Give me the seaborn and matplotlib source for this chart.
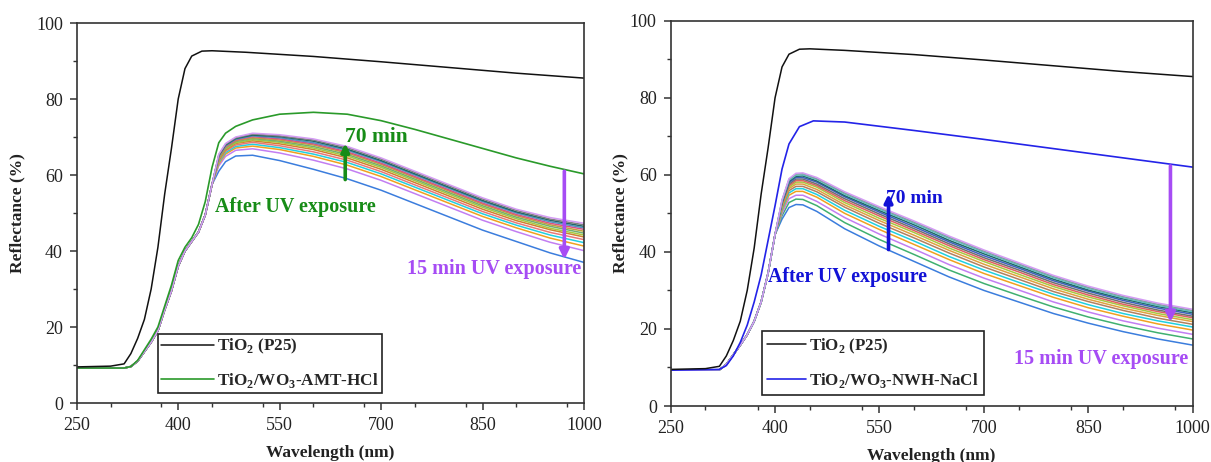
import numpy as np
import pandas as pd
import matplotlib
matplotlib.use("Agg")
import matplotlib.pyplot as plt
from matplotlib.ticker import MultipleLocator, FixedLocator
from matplotlib.lines import Line2D
import seaborn as sns

# ---------------- data ----------------
# TiO2 (P25) reference (both panels)
p25_wl = [250, 300, 320, 330, 340, 350, 360, 370, 380, 390, 400, 410, 420, 435, 450, 500, 600, 700, 800, 900, 1000]
p25_R = [9.5, 9.7, 10.3, 13.0, 17.0, 22.0, 30.0, 41.0, 55.0, 67.0, 80.0, 88.0, 91.3, 92.6, 92.7, 92.3, 91.2, 89.8, 88.3, 86.8, 85.5]

# Left: TiO2/WO3-AMT-HCl before UV
amt_wl = [250, 320, 330, 340, 350, 360, 370, 380, 390, 400, 410, 420, 430, 440, 450, 460, 470, 485, 510,
          550, 600, 650, 700, 750, 800, 850, 900, 950, 1000]
amt_R = [9.2, 9.2, 9.6, 11.2, 14.0, 16.8, 20.0, 25.5, 31.0, 37.5, 41.0, 43.5, 47.0, 53.0, 62.0, 68.5, 71.0, 72.8, 74.5,
         76.0, 76.5, 76.0, 74.3, 72.0, 69.5, 67.0, 64.5, 62.3, 60.3]

# Left: UV exposure series (shared rising edge + individual tails), 15 min -> 70 min
left_rise_wl = [250, 320, 330, 340, 350, 360, 370, 380, 390, 400, 410, 420, 430, 440, 450]
left_rise_R = [9.2, 9.2, 9.6, 11.0, 13.5, 16.0, 19.0, 24.5, 29.5, 36.0, 40.0, 42.5, 45.0, 49.5, 57.5]
left_tail_wl = [460, 470, 485, 510, 550, 600, 650, 700, 750, 800, 850, 900, 950, 1000]
left_uv = [
    [61.0, 63.5, 65.0, 65.2, 63.8, 61.5, 59.0, 56.0, 52.5, 49.0, 45.5, 42.5, 39.5, 37.0],
    [62.4, 64.9, 66.5, 66.9, 65.8, 63.9, 61.6, 58.6, 55.1, 51.6, 48.1, 45.1, 42.3, 40.1],
    [62.9, 65.5, 67.1, 67.6, 66.7, 64.9, 62.6, 59.6, 56.1, 52.6, 49.1, 46.1, 43.4, 41.3],
    [63.3, 65.9, 67.5, 68.1, 67.2, 65.5, 63.3, 60.3, 56.8, 53.3, 49.8, 46.8, 44.2, 42.2],
    [63.6, 66.3, 67.9, 68.6, 67.7, 66.1, 63.9, 60.9, 57.4, 53.9, 50.4, 47.4, 44.9, 43.0],
    [63.9, 66.6, 68.3, 69.0, 68.2, 66.7, 64.5, 61.5, 58.0, 54.5, 51.0, 48.0, 45.6, 43.7],
    [64.2, 66.9, 68.5, 69.3, 68.6, 67.1, 65.0, 62.0, 58.5, 55.0, 51.5, 48.5, 46.0, 44.2],
    [64.4, 67.1, 68.8, 69.6, 68.9, 67.5, 65.4, 62.4, 58.9, 55.4, 51.9, 48.9, 46.5, 44.7],
    [64.6, 67.3, 69.0, 69.8, 69.2, 67.9, 65.8, 62.8, 59.3, 55.8, 52.3, 49.3, 46.9, 45.2],
    [64.8, 67.5, 69.2, 70.1, 69.5, 68.2, 66.1, 63.1, 59.6, 56.1, 52.6, 49.6, 47.3, 45.7],
    [65.0, 67.7, 69.4, 70.3, 69.8, 68.5, 66.5, 63.5, 60.0, 56.5, 53.0, 50.0, 47.7, 46.1],
    [65.1, 67.9, 69.6, 70.5, 70.1, 68.9, 66.8, 63.8, 60.3, 56.8, 53.3, 50.3, 48.1, 46.5],
    [65.3, 68.1, 69.8, 70.8, 70.3, 69.2, 67.2, 64.2, 60.7, 57.2, 53.7, 50.7, 48.4, 46.9],
    [65.5, 68.3, 70.0, 71.0, 70.6, 69.5, 67.5, 64.5, 61.0, 57.5, 54.0, 51.0, 48.8, 47.3],
]
left_colors = ["#3b7ddd", "#c27ef2", "#f0a020", "#20d0e0", "#e87878", "#d08030", "#a8c840", "#70b070",
               "#c0a040", "#e05080", "#5090c0", "#206868", "#808080", "#d49cf4"]

# Right: TiO2/WO3-NWH-NaCl before UV
nwh_wl = [250, 320, 330, 340, 350, 360, 370, 380, 390, 400, 410, 420, 435, 455, 500, 600, 700, 800, 900, 1000]
nwh_R = [9.3, 9.5, 10.5, 13.0, 16.5, 21.0, 27.0, 34.0, 43.0, 52.0, 61.5, 68.0, 72.5, 74.0, 73.7, 71.5, 69.2, 66.8, 64.4, 62.0]

# Right: UV exposure series
right_rise_wl = [250, 320, 330, 340, 350, 360, 370, 380, 390, 400]
right_rise_R = [9.3, 9.4, 10.8, 13.3, 15.8, 18.5, 22.0, 27.0, 34.5, 44.5]
right_tail_wl = [410, 420, 430, 440, 460, 500, 550, 600, 650, 700, 750, 800, 850, 900, 950, 1000]
right_uv = [
    [48.5, 51.5, 52.3, 52.2, 50.5, 46.0, 41.5, 37.5, 33.5, 30.0, 27.0, 24.0, 21.5, 19.3, 17.4, 15.8],
    [49.4, 52.8, 53.7, 53.6, 52.0, 47.6, 43.2, 39.3, 35.3, 31.8, 28.7, 25.7, 23.1, 20.9, 19.0, 17.4],
    [50.0, 53.8, 54.7, 54.7, 53.1, 48.9, 44.6, 40.7, 36.7, 33.2, 30.1, 27.0, 24.4, 22.1, 20.2, 18.6],
    [50.6, 54.7, 55.7, 55.7, 54.2, 50.0, 45.8, 41.9, 38.0, 34.4, 31.3, 28.2, 25.5, 23.3, 21.3, 19.7],
    [51.0, 55.3, 56.4, 56.4, 54.9, 50.8, 46.6, 42.8, 38.8, 35.3, 32.1, 29.0, 26.3, 24.0, 22.1, 20.5],
    [51.4, 55.9, 57.0, 57.0, 55.6, 51.6, 47.4, 43.6, 39.7, 36.1, 32.9, 29.7, 27.1, 24.8, 22.8, 21.2],
    [51.8, 56.4, 57.6, 57.6, 56.2, 52.2, 48.1, 44.3, 40.4, 36.8, 33.6, 30.4, 27.7, 25.4, 23.5, 21.9],
    [52.1, 56.8, 58.1, 58.1, 56.8, 52.8, 48.7, 45.0, 41.0, 37.5, 34.2, 31.0, 28.3, 26.0, 24.0, 22.4],
    [52.3, 57.2, 58.5, 58.5, 57.2, 53.3, 49.3, 45.5, 41.6, 38.0, 34.8, 31.5, 28.8, 26.4, 24.5, 22.9],
    [52.6, 57.6, 58.9, 58.9, 57.6, 53.8, 49.8, 46.0, 42.1, 38.5, 35.3, 32.0, 29.3, 26.9, 24.9, 23.3],
    [52.8, 58.0, 59.3, 59.3, 58.1, 54.3, 50.3, 46.5, 42.6, 39.0, 35.8, 32.5, 29.8, 27.4, 25.4, 23.8],
    [53.0, 58.3, 59.6, 59.7, 58.4, 54.6, 50.7, 47.0, 43.0, 39.5, 36.2, 32.9, 30.1, 27.8, 25.8, 24.2],
    [53.2, 58.6, 59.9, 60.0, 58.8, 55.0, 51.1, 47.4, 43.5, 39.9, 36.6, 33.3, 30.5, 28.1, 26.1, 24.5],
    [53.4, 58.8, 60.2, 60.3, 59.0, 55.3, 51.4, 47.7, 43.8, 40.2, 36.9, 33.6, 30.8, 28.4, 26.4, 24.8],
    [53.5, 59.0, 60.4, 60.5, 59.3, 55.6, 51.7, 48.0, 44.1, 40.5, 37.2, 33.9, 31.1, 28.7, 26.7, 25.1],
]
right_colors = ["#3b7ddd", "#40b070", "#c27ef2", "#f0a020", "#20d0e0", "#b08060", "#e0a040", "#a8c840",
                "#e06060", "#707070", "#4060c0", "#206868", "#60c0c0", "#80a0a0", "#d49cf4"]

x_ticks = [250, 400, 550, 700, 850, 1000]
y_ticks = [0, 20, 40, 60, 80, 100]

# ---------------- style ----------------
sns.set_theme(style="ticks")
plt.rcParams["font.family"] = ["Liberation Serif", "DejaVu Serif"]
plt.rcParams["mathtext.fontset"] = "custom"
plt.rcParams["mathtext.rm"] = "Liberation Serif"
plt.rcParams["mathtext.bf"] = "Liberation Serif:bold"
plt.rcParams["axes.edgecolor"] = "#333333"
plt.rcParams["axes.linewidth"] = 1.2

fig = plt.figure(figsize=(12.11, 4.62), dpi=100)
axL = fig.add_axes([0.0634, 0.1277, 0.4188, 0.8225])
axR = fig.add_axes([0.5538, 0.1212, 0.4311, 0.8340])


def uv_frame(rise_wl, rise_R, tail_wl, curves):
    rows = []
    for i, tail in enumerate(curves):
        wl = rise_wl + tail_wl
        R = rise_R + tail
        for w, r in zip(wl, R):
            rows.append({"wl": w, "R": r, "curve": f"c{i:02d}"})
    return pd.DataFrame(rows)


def style_axes(ax, ypad):
    ax.set_xlim(250, 1000)
    ax.set_ylim(0, 100)
    ax.xaxis.set_major_locator(FixedLocator(x_ticks))
    ax.xaxis.set_minor_locator(MultipleLocator(75))
    ax.yaxis.set_major_locator(FixedLocator(y_ticks))
    ax.yaxis.set_minor_locator(MultipleLocator(10))
    ax.tick_params(which="major", direction="out", length=5, width=1.1, labelsize=13, pad=5,
                   colors="#333333", labelcolor="#222222", top=False, right=False)
    ax.tick_params(which="minor", direction="out", length=3, width=1.0, colors="#333333",
                   top=False, right=False)
    for s in ax.spines.values():
        s.set_visible(True)
        s.set_color("#333333")
        s.set_linewidth(1.2)
    ax.set_xlabel("Wavelength (nm)", fontsize=12.5, fontweight="bold", color="#222222", labelpad=8)
    ax.set_ylabel("Reflectance (%)", fontsize=12.5, fontweight="bold", color="#222222", labelpad=ypad)


green = "#178c17"
purple = "#a64cf4"
blue = "#1212d6"

# ---- Left panel ----
dfL = uv_frame(left_rise_wl, left_rise_R, left_tail_wl, left_uv)
sns.lineplot(data=dfL, x="wl", y="R", hue="curve", palette=left_colors, estimator=None,
             sort=False, linewidth=1.1, legend=False, ax=axL)
sns.lineplot(x=amt_wl, y=amt_R, color="#2a9a2a", linewidth=1.2, estimator=None, sort=False, ax=axL)
sns.lineplot(x=p25_wl, y=p25_R, color="#111111", linewidth=1.1, estimator=None, sort=False, ax=axL)
style_axes(axL, 8)

axL.annotate("", xy=(647, 68.3), xytext=(647, 58.8),
             arrowprops=dict(arrowstyle="-|>", color=green, lw=2.6, mutation_scale=12, shrinkA=0, shrinkB=0))
axL.text(646, 70.0, "70 min", color=green, fontsize=15.5, fontweight="bold", ha="left", va="center")
axL.text(454, 51.6, "After UV exposure", color=green, fontsize=14.5, fontweight="bold", ha="left", va="center")
axL.annotate("", xy=(971, 37.8), xytext=(971, 61.0),
             arrowprops=dict(arrowstyle="-|>", color=purple, lw=2.6, mutation_scale=14, shrinkA=0, shrinkB=0))
axL.text(996, 35.3, "15 min UV exposure", color=purple, fontsize=14.5, fontweight="bold", ha="right", va="center")

hL = [Line2D([], [], color="#111111", lw=1.1), Line2D([], [], color="#2a9a2a", lw=1.2)]
legL = axL.legend(hL, ["TiO$_{\\mathbf{2}}$ (P25)", "TiO$_{\\mathbf{2}}$/WO$_{\\mathbf{3}}$-AMT-HCl"],
                  loc="lower left", bbox_to_anchor=(0.160, 0.026), borderaxespad=0, fancybox=False,
                  framealpha=1, edgecolor="#222222", handlelength=3.1, handletextpad=0.15,
                  borderpad=0.2, labelspacing=0.85, prop={"weight": "bold", "size": 12.3})
legL.get_frame().set_linewidth(1.2)

# ---- Right panel ----
dfR = uv_frame(right_rise_wl, right_rise_R, right_tail_wl, right_uv)
sns.lineplot(data=dfR, x="wl", y="R", hue="curve", palette=right_colors, estimator=None,
             sort=False, linewidth=1.1, legend=False, ax=axR)
sns.lineplot(x=nwh_wl, y=nwh_R, color="#2323e8", linewidth=1.2, estimator=None, sort=False, ax=axR)
sns.lineplot(x=p25_wl, y=p25_R, color="#111111", linewidth=1.1, estimator=None, sort=False, ax=axR)
style_axes(axR, 1)

axR.annotate("", xy=(563, 55.0), xytext=(563, 40.6),
             arrowprops=dict(arrowstyle="-|>", color=blue, lw=2.6, mutation_scale=12, shrinkA=0, shrinkB=0))
axR.text(560, 53.9, "70 min", color=blue, fontsize=14, fontweight="bold", ha="left", va="center")
axR.text(390, 33.6, "After UV exposure", color=blue, fontsize=14.3, fontweight="bold", ha="left", va="center")
axR.annotate("", xy=(968, 21.8), xytext=(968, 62.3),
             arrowprops=dict(arrowstyle="-|>", color=purple, lw=2.6, mutation_scale=14, shrinkA=0, shrinkB=0))
axR.text(993, 12.1, "15 min UV exposure", color=purple, fontsize=14.5, fontweight="bold", ha="right", va="center")

hR = [Line2D([], [], color="#111111", lw=1.1), Line2D([], [], color="#2323e8", lw=1.2)]
legR = axR.legend(hR, ["TiO$_{\\mathbf{2}}$ (P25)", "TiO$_{\\mathbf{2}}$/WO$_{\\mathbf{3}}$-NWH-NaCl"],
                  loc="lower left", bbox_to_anchor=(0.175, 0.0286), borderaxespad=0, fancybox=False,
                  framealpha=1, edgecolor="#222222", handlelength=2.3, handletextpad=0.2,
                  borderpad=0.3, labelspacing=0.9, prop={"weight": "bold", "size": 12.2})
legR.get_frame().set_linewidth(1.2)

fig.savefig("out.png", dpi=100)
